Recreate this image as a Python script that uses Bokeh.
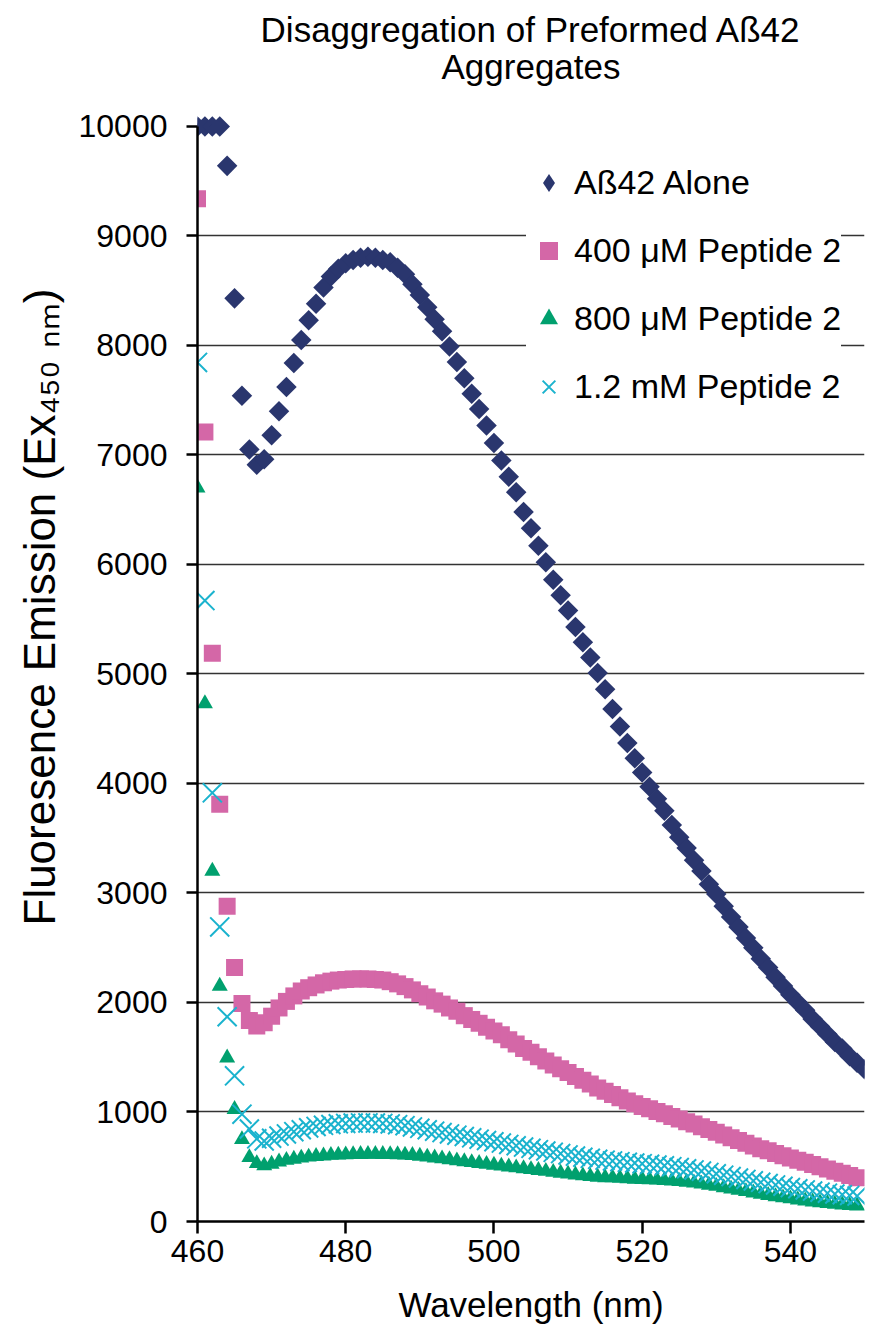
import math
from bokeh.plotting import figure
from bokeh.models import Range1d, FixedTicker, Legend, LegendItem, Title
from bokeh.embed import file_html
from bokeh.resources import INLINE

# ---------------- data ----------------
wavelength_abeta = list(range(460, 551))   # 460..550 nm
wavelength_pep = list(range(460, 550))     # 460..549 nm

abeta_alone = [
    10000, 10000, 10000, 10000, 9640, 8430, 7540, 7050, 6910, 6960,
    7180, 7400, 7620, 7840, 8050, 8230, 8380, 8530, 8630, 8700,
    8750, 8780, 8800, 8810, 8800, 8780, 8760, 8710, 8650, 8560,
    8460, 8350, 8240, 8130, 7990, 7850, 7700, 7560, 7420, 7270,
    7110, 6950, 6800, 6660, 6480, 6330, 6170, 6020, 5860, 5720,
    5580, 5430, 5290, 5150, 5010, 4860, 4680, 4520, 4370, 4230,
    4100, 3970, 3860, 3750, 3620, 3510, 3410, 3300, 3200, 3080,
    2990, 2880, 2780, 2690, 2590, 2500, 2400, 2320, 2230, 2150,
    2070, 2000, 1930, 1850, 1780, 1710, 1640, 1580, 1510, 1450,
    1390,
]

pep2_400uM = [
    9340, 7210, 5190, 3810, 2880, 2320, 1990, 1835, 1785, 1815,
    1875, 1950, 2010, 2060, 2105, 2135, 2160, 2180, 2195, 2205,
    2210, 2215, 2215, 2215, 2210, 2205, 2190, 2170, 2145, 2115,
    2080, 2050, 2015, 1985, 1950, 1920, 1880, 1845, 1810, 1775,
    1740, 1705, 1660, 1620, 1580, 1545, 1505, 1465, 1430, 1395,
    1360, 1325, 1290, 1255, 1220, 1190, 1160, 1130, 1100, 1075,
    1050, 1030, 1005, 985, 960, 935, 910, 890, 865, 840,
    815, 790, 765, 740, 715, 690, 665, 645, 620, 600,
    580, 560, 540, 520, 500, 480, 460, 440, 420, 400,
]

pep2_800uM = [
    6700, 4730, 3200, 2150, 1495, 1025, 750, 585, 530, 510,
    525, 545, 560, 570, 580, 590, 595, 600, 605, 608,
    610, 612, 614, 615, 615, 614, 613, 611, 608, 604,
    598, 590, 582, 574, 566, 555, 547, 539, 531, 523,
    515, 507, 499, 491, 483, 475, 467, 459, 451, 442,
    434, 426, 419, 412, 406, 401, 400, 396, 392, 388,
    385, 382, 379, 376, 372, 367, 360, 352, 343, 333,
    322, 310, 298, 286, 274, 262, 250, 239, 228, 218,
    208, 198, 189, 180, 172, 165, 158, 152, 147, 143,
]

pep2_1_2mM = [
    7845, 5670, 3915, 2690, 1870, 1330, 980, 845, 755, 735,
    760, 780, 800, 820, 838, 855, 868, 878, 886, 892,
    896, 899, 900, 900, 899, 896, 891, 884, 875, 864,
    851, 838, 825, 812, 800, 788, 776, 764, 752, 740,
    728, 716, 704, 692, 680, 668, 656, 644, 632, 620,
    608, 597, 587, 577, 568, 560, 553, 546, 540, 534,
    528, 522, 516, 509, 501, 492, 482, 471, 460, 448,
    436, 423, 410, 397, 384, 371, 358, 346, 334, 322,
    310, 299, 288, 278, 268, 259, 251, 244, 238, 232,
]

series_labels = ["A\u00df42 Alone", "400 \u03bcM Peptide 2", "800 \u03bcM Peptide 2", "1.2 mM Peptide 2"]
series_colors = ["#2A366E", "#D467A7", "#00A06E", "#1BB3CE"]

x_ticks = [460, 480, 500, 520, 540]
y_ticks = [0, 1000, 2000, 3000, 4000, 5000, 6000, 7000, 8000, 9000, 10000]
grid_ticks = [1000, 2000, 3000, 4000, 5000, 6000, 7000, 8000, 9000]

title_line1 = "Disaggregation of Preformed A\u00df42"
title_line2 = "Aggregates"
x_label = "Wavelength (nm)"
y_label = "Fluoresence Emission (Ex\u2084\u2085\u2080 \u2099\u2098)"

FONT = "Liberation Sans"

# ---------------- figure ----------------
p = figure(
    frame_width=667, frame_height=1106,
    min_border_left=197, min_border_right=7, min_border_top=115, min_border_bottom=111,
    x_range=Range1d(460, 550), y_range=Range1d(0, 10100),
    output_backend="svg", toolbar_location=None,
)
p.outline_line_color = None
p.background_fill_color = "white"
p.border_fill_color = "white"

# two-line title: the figure title is the outer (first) line,
# the added title sits next to the frame (second line)
p.title.text = title_line1
p.title.align = "center"
p.title.text_font = FONT
p.title.text_font_size = "35px"
p.title.text_font_style = "normal"
p.title.text_color = "black"
p.title.standoff = -68
p.add_layout(Title(text=title_line2, align="center", text_font=FONT, text_font_size="35px",
                   text_font_style="normal", text_color="black", standoff=60), "above")

# y label as a left title (start aligned, shifted up)
ytitle = Title(text=y_label, align="left", offset=296, text_font=FONT,
               text_font_size="44px", text_font_style="normal", text_color="black",
               standoff=24)
p.add_layout(ytitle, "left")

# axes
for ax in (p.xaxis, p.yaxis):
    ax.axis_line_width = 2.5
    ax.axis_line_color = "black"
    ax.major_tick_line_width = 2.5
    ax.major_tick_line_color = "black"
    ax.major_tick_in = 0
    ax.minor_tick_line_color = None
    ax.major_label_text_font = FONT
    ax.major_label_text_font_size = "32px"
    ax.major_label_text_color = "black"

p.xaxis.ticker = FixedTicker(ticks=x_ticks)
p.xaxis.major_tick_out = 12
p.xaxis.major_label_standoff = 6
p.xaxis.axis_label = x_label
p.xaxis.axis_label_text_font = FONT
p.xaxis.axis_label_text_font_size = "35px"
p.xaxis.axis_label_text_font_style = "normal"
p.xaxis.axis_label_text_color = "black"
p.xaxis.axis_label_standoff = 20

p.yaxis.ticker = FixedTicker(ticks=y_ticks)
p.yaxis.bounds = (0, 10000)
p.yaxis.major_tick_out = 11
p.yaxis.major_label_standoff = 19

p.xgrid.grid_line_color = None
p.ygrid.ticker = FixedTicker(ticks=grid_ticks)
p.ygrid.grid_line_color = "#333333"
p.ygrid.grid_line_width = 1.6

# ---------------- data glyphs ----------------
# legend proxy for the diamond (hidden underneath the rotated squares)
r0_proxy = p.scatter(wavelength_abeta, abeta_alone, marker="diamond", size=18,
                     fill_color=series_colors[0], line_color=None)
r0 = p.scatter(wavelength_abeta, abeta_alone, marker="square", size=14.5, angle=math.pi / 4,
               fill_color=series_colors[0], line_color=None)
r1 = p.scatter(wavelength_pep, pep2_400uM, marker="square", size=17,
               fill_color=series_colors[1], line_color=None)
r2 = p.scatter(wavelength_pep, pep2_800uM, marker="triangle", size=16,
               fill_color=series_colors[2], line_color=None)
r3 = p.scatter(wavelength_pep, pep2_1_2mM, marker="x", size=27,
               line_color=series_colors[3], line_width=2)

legend = Legend(
    items=[
        LegendItem(label=series_labels[0], renderers=[r0_proxy]),
        LegendItem(label=series_labels[1], renderers=[r1]),
        LegendItem(label=series_labels[2], renderers=[r2]),
        LegendItem(label=series_labels[3], renderers=[r3]),
    ],
    location=(329, 812),
    glyph_width=45, glyph_height=45, label_height=45,
    label_standoff=3, padding=3, spacing=23, margin=0,
    label_text_font=FONT, label_text_font_size="34px", label_text_color="black",
    background_fill_color="white", background_fill_alpha=1.0,
    border_line_color=None,
)
p.add_layout(legend)

open("out.html", "w").write(file_html(p, INLINE))
